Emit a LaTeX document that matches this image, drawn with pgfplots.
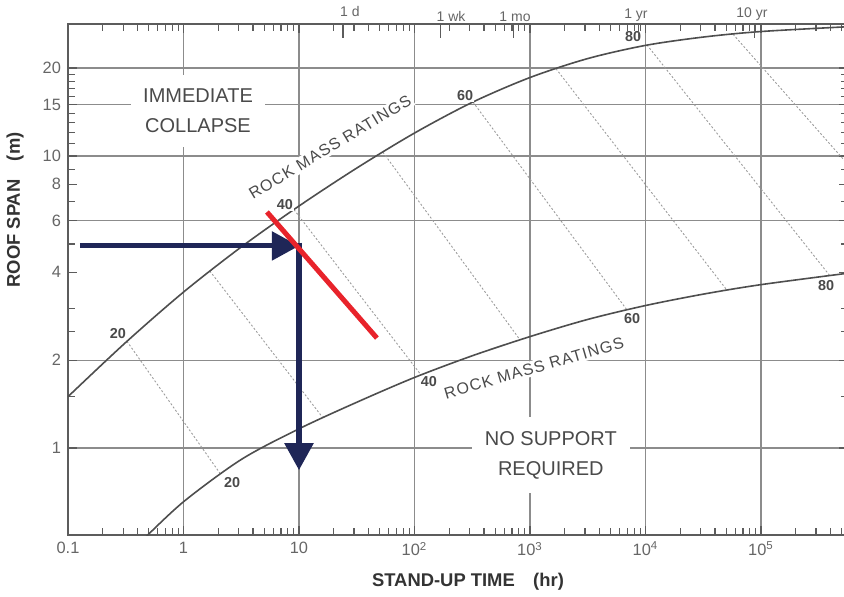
\documentclass[border=0pt]{standalone}
\usepackage{pgfplots}
\pgfplotsset{compat=1.18}
\usepackage{fontspec}
\setmainfont{Liberation Sans}
\newfontfamily\spaced[LetterSpace=7]{Liberation Sans}
\usetikzlibrary{arrows.meta}
\definecolor{axgray}{HTML}{5C5C5C}
\definecolor{gridgray}{HTML}{8C8C8C}
\definecolor{curvegray}{HTML}{4E4E4E}
\definecolor{dotgray}{HTML}{9C9C9C}
\definecolor{labgray}{HTML}{666666}
\definecolor{txtgray}{HTML}{4A4A4A}
\definecolor{navy}{HTML}{1F2657}
\definecolor{rred}{HTML}{E8232B}
\begin{document}
\begin{tikzpicture}
\useasboundingbox (-34pt,-30.5pt) rectangle (388pt,267.5pt);
\begin{axis}[
  at={(0pt,0pt)}, anchor=south west,
  scale only axis, width=390pt, height=255.5pt,
  xmode=log, ymode=log,
  xmin=0.1, xmax=567000, ymin=0.504, ymax=28.3,
  clip mode=individual,
  axis line style={axgray, line width=1pt},
  xtick={0.1,1,10,100,1000,10000,100000},
  xticklabels={0.1,1,10,10\textsuperscript{2},10\textsuperscript{3},10\textsuperscript{4},10\textsuperscript{5}},
  minor xtick={0.2,0.3,0.4,0.5,0.6,0.7,0.8,0.9,2,3,4,5,6,7,8,9,20,30,40,50,60,70,80,90,200,300,400,500,600,700,800,900,2000,3000,4000,5000,6000,7000,8000,9000,20000,30000,40000,50000,60000,70000,80000,90000,200000,300000,400000,500000},
  ytick={1,2,6,10,15,20},
  yticklabels={1,2,6,10,15,20},
  extra y ticks={4,8},
  extra y tick labels={4,8},
  extra y tick style={grid=none},
  minor ytick={1.5,2.5,3,5,7,9,11,12,13,14,16,17,18,19},
  xmajorgrids, ymajorgrids,
  major grid style={gridgray, line width=0.6pt},
  tick align=inside,
  major tick length=4.5pt, minor tick length=3.5pt,
  tick style={axgray, line width=0.6pt},
  xticklabel style={font=\fontsize{8.2}{10}\selectfont, text=labgray},
  yticklabel style={font=\fontsize{8.2}{10}\selectfont, text=labgray},
]
% region labels
\node[fill=white, inner xsep=6pt, inner ysep=7pt, align=center, text=txtgray, font=\fontsize{10}{15}\selectfont]
  at (axis description cs:0.1667,0.83) {IMMEDIATE\\COLLAPSE};
\node[fill=white, inner xsep=6.5pt, inner ysep=7pt, align=center, text=txtgray, font=\fontsize{10}{15}\selectfont]
  at (axis description cs:0.619,0.1566) {NO SUPPORT\\REQUIRED};
\node[fill=white, inner sep=1pt, rotate=31, text=txtgray, font=\fontsize{8}{10}\spaced]
  at (axis description cs:0.3359,0.759) {ROCK MASS RATINGS};
\node[fill=white, inner sep=1pt, rotate=16.2, text=txtgray, font=\fontsize{8}{10}\spaced]
  at (axis description cs:0.5974,0.3268) {ROCK MASS RATINGS};
% RMR contour lines (dotted)
\addplot[dotgray, line width=0.45pt, dash pattern=on 1pt off 1pt] coordinates {(0.324,2.32) (2.07,0.82)};
\addplot[dotgray, line width=0.45pt, dash pattern=on 1pt off 1pt] coordinates {(1.69,4.04) (16.1,1.27)};
\addplot[dotgray, line width=0.45pt, dash pattern=on 1pt off 1pt] coordinates {(9.06,6.55) (114,1.78)};
\addplot[dotgray, line width=0.45pt, dash pattern=on 1pt off 1pt] coordinates {(53.3,10.3) (818,2.35)};
\addplot[dotgray, line width=0.45pt, dash pattern=on 1pt off 1pt] coordinates {(321,15.3) (6920,2.97)};
\addplot[dotgray, line width=0.45pt, dash pattern=on 1pt off 1pt] coordinates {(1680,19.9) (50800,3.47)};
\addplot[dotgray, line width=0.45pt, dash pattern=on 1pt off 1pt] coordinates {(10300,24.0) (395000,3.89)};
\addplot[dotgray, line width=0.45pt, dash pattern=on 1pt off 1pt] coordinates {(57300,26.1) (900000,7.6)};
% boundary curves
\addplot[curvegray, line width=0.8pt, smooth] coordinates {
 (0.1,1.50) (0.3162,2.30) (1,3.42) (3.162,4.88) (10,6.74) (31.62,9.09) (100,11.98)
 (316.2,15.26) (1000,18.56) (3162,21.55) (10000,23.91) (31623,25.53) (100000,26.67) (567000,27.7)};
\addplot[curvegray, line width=0.8pt, smooth] coordinates {
 (0.447,0.486) (1,0.655) (3.162,0.914) (10,1.164) (31.62,1.435) (100,1.745) (316.2,2.07)
 (1000,2.408) (3162,2.757) (10000,3.076) (31623,3.365) (100000,3.627) (567000,3.97)};
% RMR value labels
\node[fill=white, inner sep=0.6pt, text=txtgray, font=\fontsize{7.2}{9}\bfseries] at (axis description cs:0.0641,0.3933) {20};
\node[fill=white, inner sep=0.6pt, text=txtgray, font=\fontsize{7.2}{9}\bfseries] at (axis description cs:0.2782,0.6458) {40};
\node[fill=white, inner sep=0.6pt, text=txtgray, font=\fontsize{7.2}{9}\bfseries] at (axis description cs:0.5090,0.8591) {60};
\node[inner sep=0.6pt, text=txtgray, font=\fontsize{7.2}{9}\bfseries] at (axis description cs:0.7244,0.9746) {80};
\node[fill=white, inner sep=0.6pt, text=txtgray, font=\fontsize{7.2}{9}\bfseries] at (axis description cs:0.2103,0.1018) {20};
\node[fill=white, inner sep=0.6pt, text=txtgray, font=\fontsize{7.2}{9}\bfseries] at (axis description cs:0.4628,0.2994) {40};
\node[fill=white, inner sep=0.6pt, text=txtgray, font=\fontsize{7.2}{9}\bfseries] at (axis description cs:0.7231,0.4227) {60};
\node[fill=white, inner sep=0.6pt, text=txtgray, font=\fontsize{7.2}{9}\bfseries] at (axis description cs:0.9718,0.4873) {80};
% example reading
\addplot[navy, line width=2.5pt, -{Triangle[length=13.5pt,width=14pt]}] coordinates {(0.127,4.92) (10,4.92)};
\addplot[navy, line width=2.7pt, -{Triangle[length=13.5pt,width=14pt]}] coordinates {(10,5.05) (10,0.84)};
\addplot[rred, line width=2.5pt] coordinates {(5.28,6.43) (47.3,2.38)};
% top time labels
\node[text=labgray, font=\fontsize{7}{9}\selectfont] at (axis description cs:0.3615,1.0235) {1 d};
\node[text=labgray, font=\fontsize{7}{9}\selectfont] at (axis description cs:0.4910,1.0157) {1 wk};
\node[text=labgray, font=\fontsize{7}{9}\selectfont] at (axis description cs:0.5731,1.0137) {1 mo};
\node[text=labgray, font=\fontsize{7}{9}\selectfont] at (axis description cs:0.7282,1.0176) {1 yr};
\node[text=labgray, font=\fontsize{7}{9}\selectfont] at (axis description cs:0.8769,1.0196) {10 yr};
% axis titles
\node[text=black!80, font=\fontsize{9.2}{11}\bfseries] at (axis description cs:0.5128,-0.092) {STAND-UP TIME\quad(hr)};
\node[text=black!80, font=\fontsize{9.2}{11}\bfseries, rotate=90] at (axis description cs:-0.0679,0.636) {ROOF SPAN\quad(m)};
\end{axis}
\begin{axis}[
  at={(0pt,0pt)}, anchor=south west,
  scale only axis, width=390pt, height=255.5pt,
  xmode=log, ymode=log,
  xmin=0.1, xmax=567000, ymin=0.504, ymax=28.3,
  axis x line*=top, axis y line=none,
  axis line style={axgray, line width=1pt},
  xtick={24,168,720,8760,87600},
  xticklabels={},
  minor xtick={},
  tick align=inside,
  major tick length=7pt,
  tick style={axgray, line width=0.6pt},
]
\end{axis}
\end{tikzpicture}
\end{document}
